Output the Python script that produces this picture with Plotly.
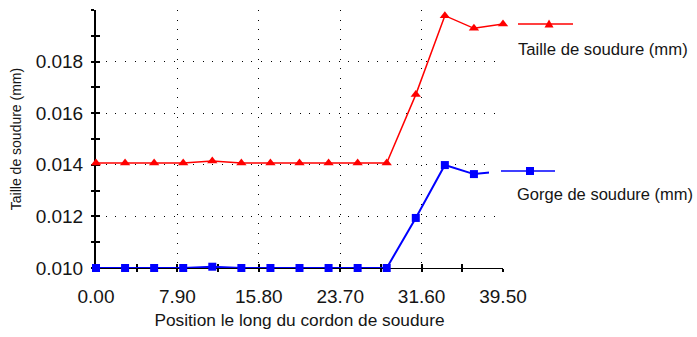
import plotly.graph_objects as go

positions = [i * 39.5 / 14 for i in range(15)]
taille = [0.01407, 0.01407, 0.01407, 0.01407, 0.01415, 0.01407, 0.01407, 0.01407,
          0.01407, 0.01407, 0.01407, 0.01672, 0.01978, 0.01929, 0.01946]
gorge = [0.0100, 0.0100, 0.0100, 0.0100, 0.01005, 0.0100, 0.0100, 0.0100,
         0.0100, 0.0100, 0.0100, 0.01194, 0.01399, 0.01364, 0.01375]
x_tickvals = [0.0, 7.9, 15.8, 23.7, 31.6, 39.5]
x_ticktext = ["0.00", "7.90", "15.80", "23.70", "31.60", "39.50"]
y_tickvals = [0.010, 0.012, 0.014, 0.016, 0.018]
y_ticktext = ["0.010", "0.012", "0.014", "0.016", "0.018"]
series_names = ["Taille de soudure (mm)", "Gorge de soudure (mm)"]

FONT = "Liberation Sans"
TXT = "#151515"
W, H = 697, 337
L, R, T, B = 96, 503, 10, 268


def px(x):
    return (x - L) / (R - L)


def py(y):
    return (B - y) / (B - T)


fig = go.Figure()
fig.add_trace(go.Scatter(x=positions, y=gorge, mode="lines+markers",
                         line=dict(color="#0000FF", width=2),
                         marker=dict(symbol="square", size=8, color="#0000FF"),
                         showlegend=False, cliponaxis=False))
fig.add_trace(go.Scatter(x=positions, y=taille, mode="lines+markers",
                         line=dict(color="#FF0000", width=1.5),
                         marker=dict(symbol="triangle-up", size=9, color="#FF0000"),
                         showlegend=False, cliponaxis=False))

grid_dash = "1px,8.7px"
common_x = dict(range=[0, 39.5], showline=True, linecolor="black", linewidth=1,
                layer="below traces", zeroline=False, mirror=False, automargin=False)
common_y = dict(range=[0.010, 0.020], showline=True, linecolor="black", linewidth=2,
                layer="below traces", zeroline=False, mirror=False, automargin=False)
tk = dict(tickcolor="black", tickwidth=1.5)
mtk = dict(tickcolor="black", tickwidth=1.5, showgrid=False)

fig.update_layout(
    width=W, height=H,
    margin=dict(l=L, r=W - R, t=T, b=H - B, pad=0, autoexpand=False),
    plot_bgcolor="white", paper_bgcolor="white",
    font=dict(family=FONT, color=TXT),
    xaxis=dict(**common_x, **tk, tickvals=x_tickvals, ticktext=x_ticktext,
               ticks="outside", ticklen=3,
               minor=dict(dtick=3.95, tick0=0, ticks="outside", ticklen=3, **mtk),
               showgrid=True, gridcolor="black", griddash=grid_dash, gridwidth=1,
               tickfont=dict(size=19, family=FONT, color=TXT),
               ticklabelstandoff=8,
               title=dict(text="Position le long du cordon de soudure",
                          font=dict(size=17.3, family=FONT, color=TXT), standoff=8)),
    yaxis=dict(**common_y, **tk, tickvals=y_tickvals, ticktext=y_ticktext,
               ticks="outside", ticklen=3,
               minor=dict(dtick=0.001, tick0=0.010, ticks="outside", ticklen=3, **mtk),
               showgrid=True, gridcolor="black", griddash=grid_dash, gridwidth=1,
               tickfont=dict(size=19, family=FONT, color=TXT),
               ticklabelstandoff=4,
               title=dict(text="Taille de soudure (mm)",
                          font=dict(size=14, family=FONT, color=TXT), standoff=11)),
    xaxis2=dict(**common_x, **tk, overlaying="x", anchor="y", tickvals=x_tickvals, showticklabels=False,
                ticks="inside", ticklen=4, showgrid=False,
                minor=dict(dtick=3.95, tick0=0, ticks="inside", ticklen=4, **mtk)),
    yaxis2=dict(**common_y, **tk, overlaying="y", anchor="x", tickvals=y_tickvals, showticklabels=False,
                ticks="inside", ticklen=4, showgrid=False,
                minor=dict(dtick=0.001, tick0=0.010, ticks="inside", ticklen=4, **mtk)),
)
fig.add_trace(go.Scatter(x=[None], y=[None], xaxis="x2", yaxis="y2", showlegend=False, hoverinfo="skip"))

shapes = []
shapes.append(dict(type="rect", xref="paper", yref="paper", x0=px(489), x1=px(697),
                   y0=py(190), y1=py(158), fillcolor="white", line=dict(width=0), layer="above"))
shapes.append(dict(type="line", xref="paper", yref="paper", x0=px(518), x1=px(573),
                   y0=py(24), y1=py(24), line=dict(color="#FF0000", width=1.5), layer="above"))
shapes.append(dict(type="path", xref="paper", yref="paper", xsizemode="pixel", ysizemode="pixel",
                   xanchor=px(549), yanchor=py(24), path="M -4.5 -3.5 L 4.5 -3.5 L 0 4.5 Z",
                   fillcolor="#FF0000", line=dict(width=0), layer="above"))
shapes.append(dict(type="line", xref="paper", yref="paper", x0=px(501), x1=px(555),
                   y0=py(171), y1=py(171), line=dict(color="#0000FF", width=1.5), layer="above"))
shapes.append(dict(type="rect", xref="paper", yref="paper", xsizemode="pixel", ysizemode="pixel",
                   xanchor=px(530), yanchor=py(171), x0=-4, x1=4, y0=-4, y1=4,
                   fillcolor="#0000FF", line=dict(width=0), layer="above"))
fig.update_layout(shapes=shapes)

fig.add_annotation(x=px(516), y=py(49), xref="paper", yref="paper", text=series_names[0],
                   showarrow=False, xanchor="left", yanchor="middle",
                   font=dict(size=16.7, family=FONT, color=TXT))
fig.add_annotation(x=px(515), y=py(194), xref="paper", yref="paper", text=series_names[1],
                   showarrow=False, xanchor="left", yanchor="middle",
                   font=dict(size=16.5, family=FONT, color=TXT))

fig.write_html("out.html", config={"displayModeBar": False},
               post_script="document.body.style.margin='0';document.body.style.overflow='hidden';")
